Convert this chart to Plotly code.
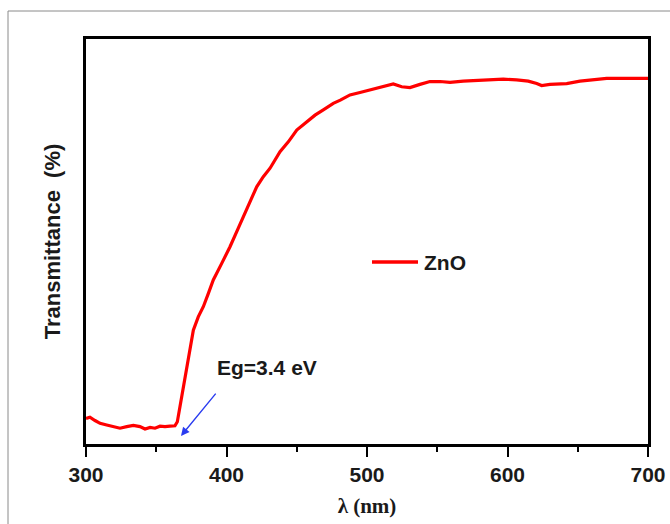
import plotly.graph_objects as go

# Optical transmittance spectrum of a ZnO film
wavelength_nm = [
    300, 302.8, 306.4, 310, 314.7, 319.4, 324.2, 329, 333.7, 338.4, 342, 345.6,
    349.1, 352.7, 356.2, 359.8, 363.3, 365, 366.9, 369.3, 371.7, 374, 376.4,
    379.9, 383.5, 387.1, 390.6, 396.6, 402.5, 408.4, 413.2, 417.9, 421.5, 426.2,
    431, 438.1, 444, 450, 457.1, 463, 468.9, 476, 481, 487.9, 495, 504.5, 511.6,
    518.7, 524.7, 530.6, 537.7, 544.8, 552, 559.1, 568.5, 578, 587.5, 597, 606.5,
    614.8, 620.8, 624.3, 630.2, 642.1, 651.6, 661.1, 670.6, 684.8, 700,
]
transmittance = [
    6.3, 6.6, 5.8, 5.1, 4.7, 4.4, 3.9, 4.3, 4.6, 4.3, 3.7, 4.1,
    3.9, 4.4, 4.3, 4.4, 4.5, 5.5, 9.2, 14.1, 19.1, 24.0, 28.1,
    31.4, 33.9, 37.2, 40.5, 44.6, 48.7, 53.3, 57.0, 61.1, 63.5, 66.0,
    68.1, 72.2, 74.6, 77.5, 79.6, 81.2, 82.5, 84.1, 84.9, 86.2, 86.8, 87.7, 88.2,
    88.9, 88.2, 88.0, 88.8, 89.5, 89.5, 89.3, 89.6, 89.8, 89.9, 90.1, 89.9,
    89.6, 89.0, 88.5, 88.8, 89.0, 89.6, 89.9, 90.3, 90.3, 90.3,
]

series_name = "ZnO"
band_gap_label = "Eg=3.4 eV"
edge_wavelength = 367.6   # absorption edge the arrow points to
edge_value = 2.0

x_ticks = [300, 400, 500, 600, 700]

SANS = "Liberation Sans, Arial, sans-serif"
SERIF = "Liberation Serif, Times New Roman, serif"

fig = go.Figure()
fig.add_trace(go.Scatter(
    x=wavelength_nm, y=transmittance, mode="lines", name=series_name,
    line=dict(color="#ff0000", width=3.2), showlegend=False,
))

# Plot box geometry (pixels) used for the outer frame and legend placement
W, H = 670, 524
L, R, T, B = 86, 22, 39, 80
PW, PH = W - L - R, H - T - B

def px_x(px):
    return (px - L) / PW

def px_y(py):
    return (H - B - py) / PH

shapes = [
    # thin outer frame
    dict(type="rect", xref="paper", yref="paper",
         x0=px_x(8), x1=px_x(690), y0=px_y(560), y1=px_y(11),
         line=dict(color="#8a8a8a", width=1), fillcolor="rgba(0,0,0,0)", layer="below"),
    # legend sample line
    dict(type="line", xref="paper", yref="paper",
         x0=px_x(372), x1=px_x(418), y0=px_y(262), y1=px_y(262),
         line=dict(color="#ff0000", width=3.5)),
]

annotations = [
    dict(xref="paper", yref="paper", x=px_x(422), y=px_y(262),
         text="<b>" + series_name + "</b>", showarrow=False,
         xanchor="left", yanchor="middle",
         font=dict(family=SANS, size=21, color="#1a1a1a")),
    dict(x=429.0, y=19.0, xref="x", yref="y", text="<b>" + band_gap_label + "</b>",
         showarrow=False, font=dict(family=SANS, size=21, color="#1a1a1a")),
    dict(x=edge_wavelength, y=edge_value, xref="x", yref="y",
         ax=393.2, ay=12.8, axref="x", ayref="y", text="",
         showarrow=True, arrowhead=2, arrowsize=1.2, arrowwidth=1.4,
         arrowcolor="#2a3cf0"),
]

fig.update_layout(
    width=W, height=H,
    margin=dict(l=L, r=R, t=T, b=B),
    paper_bgcolor="white", plot_bgcolor="white",
    shapes=shapes, annotations=annotations,
    xaxis=dict(
        range=[300, 700], tickvals=x_ticks, ticktext=[f"<b>{v}</b>" for v in x_ticks],
        ticks="outside", ticklen=10, tickwidth=2, tickcolor="black",
        minor=dict(dtick=50, ticks="outside", ticklen=5, tickwidth=2, tickcolor="black"),
        showline=True, linecolor="black", linewidth=3, mirror=True,
        showgrid=False, zeroline=False, automargin=False,
        tickfont=dict(family=SANS, size=21, color="#1a1a1a"),
        title=dict(text="<b>λ (nm)</b>", font=dict(family=SERIF, size=21, color="#1a1a1a"),
                   standoff=14),
    ),
    yaxis=dict(
        range=[0, 100], showticklabels=False, ticks="",
        showline=True, linecolor="black", linewidth=3, mirror=True,
        showgrid=False, zeroline=False, automargin=False,
        title=dict(text="<b>Transmittance  (%)</b>",
                   font=dict(family=SANS, size=22, color="#1a1a1a"), standoff=17),
    ),
)

fig.write_html("out.html")
